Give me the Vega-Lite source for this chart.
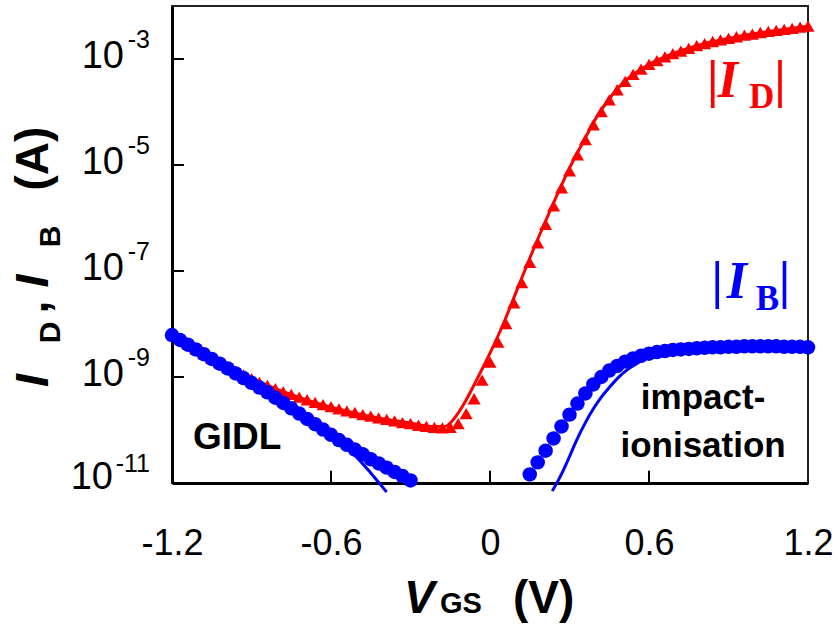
{
  "$schema": "https://vega.github.io/schema/vega-lite/v6.json",
  "width": 636,
  "height": 477,
  "autosize": {"type": "none"},
  "padding": {"left": 172, "top": 6, "right": 30, "bottom": 145},
  "background": "white",
  "config": {"view": {"stroke": "#222", "strokeWidth": 2}, "font": "Liberation Sans"},
  "encoding": {
    "x": {
      "field": "V", "type": "quantitative",
      "scale": {"domain": [-1.2, 1.2], "nice": false, "zero": false},
      "axis": {
        "values": [-1.2, -0.6, 0, 0.6, 1.2],
        "labelExpr": "datum.value < -1 ? '-1.2' : datum.value < -0.3 ? '-0.6' : datum.value < 0.3 ? '0' : datum.value < 1 ? '0.6' : '1.2'",
        "title": null, "grid": false, "ticks": false,
        "domainColor": "#000", "domainWidth": 3,
        "labelFont": "Liberation Sans", "labelFontSize": 36, "labelColor": "#000",
        "labelBaseline": "alphabetic", "labelPadding": 71,
        "labelFlush": false, "labelOverlap": false
      }
    },
    "y": {
      "field": "I", "type": "quantitative",
      "scale": {"type": "log", "domain": [1e-11, 1e-2], "nice": false},
      "axis": {
        "values": [1e-11, 1e-9, 1e-7, 1e-5, 1e-3],
        "title": null, "grid": false, "ticks": false, "labels": false,
        "domainColor": "#000", "domainWidth": 3
      }
    }
  },
  "layer": [
    {
      "data": {"values": [
        {"V": -1.2, "I": 1e-9, "t": "10"}, {"V": -1.2, "I": 1e-7, "t": "10"},
        {"V": -1.2, "I": 1e-5, "t": "10"}, {"V": -1.2, "I": 1e-3, "t": "10"}
      ]},
      "mark": {"type": "text", "font": "Liberation Sans", "fontSize": 38, "color": "#000", "align": "right", "baseline": "alphabetic", "dx": -48, "dy": 9},
      "encoding": {"text": {"field": "t"}}
    },
    {
      "data": {"values": [{"V": -1.2, "I": 1e-11, "t": "10"}]},
      "mark": {"type": "text", "font": "Liberation Sans", "fontSize": 38, "color": "#000", "align": "right", "baseline": "alphabetic", "dx": -59, "dy": 6},
      "encoding": {"text": {"field": "t"}}
    },
    {
      "data": {"values": [
        {"V": -1.2, "I": 1e-11, "t": "-11"}, {"V": -1.2, "I": 1e-9, "t": "-9"},
        {"V": -1.2, "I": 1e-7, "t": "-7"}, {"V": -1.2, "I": 1e-5, "t": "-5"},
        {"V": -1.2, "I": 1e-3, "t": "-3"}
      ]},
      "mark": {"type": "text", "font": "Liberation Sans", "fontSize": 25, "color": "#000", "align": "right", "baseline": "alphabetic", "dx": -22, "dy": -11},
      "encoding": {"text": {"field": "t"}}
    },
    {
      "data": {"values": [
        {"V": -1.2, "I": 6.76e-9}, {"V": -1.17, "I": 5.37e-9}, {"V": -1.14, "I": 4.27e-9}, {"V": -1.11, "I": 3.39e-9},
        {"V": -1.08, "I": 2.75e-9}, {"V": -1.05, "I": 2.24e-9}, {"V": -1.02, "I": 1.86e-9}, {"V": -0.99, "I": 1.55e-9},
        {"V": -0.96, "I": 1.29e-9}, {"V": -0.93, "I": 1.10e-9}, {"V": -0.9, "I": 9.33e-10}, {"V": -0.87, "I": 7.94e-10},
        {"V": -0.84, "I": 6.92e-10}, {"V": -0.81, "I": 6.03e-10}, {"V": -0.78, "I": 5.25e-10}, {"V": -0.75, "I": 4.68e-10},
        {"V": -0.72, "I": 4.17e-10}, {"V": -0.69, "I": 3.72e-10}, {"V": -0.66, "I": 3.31e-10}, {"V": -0.63, "I": 3.02e-10},
        {"V": -0.6, "I": 2.75e-10}, {"V": -0.57, "I": 2.51e-10}, {"V": -0.54, "I": 2.29e-10}, {"V": -0.51, "I": 2.14e-10},
        {"V": -0.48, "I": 1.95e-10}, {"V": -0.45, "I": 1.82e-10}, {"V": -0.42, "I": 1.70e-10}, {"V": -0.39, "I": 1.58e-10},
        {"V": -0.36, "I": 1.48e-10}, {"V": -0.33, "I": 1.38e-10}, {"V": -0.3, "I": 1.32e-10}, {"V": -0.27, "I": 1.23e-10},
        {"V": -0.24, "I": 1.17e-10}, {"V": -0.21, "I": 1.12e-10}, {"V": -0.18, "I": 1.10e-10}, {"V": -0.15, "I": 1.12e-10},
        {"V": -0.12, "I": 1.32e-10}, {"V": -0.09, "I": 2.04e-10}, {"V": -0.06, "I": 3.89e-10}, {"V": -0.03, "I": 8.71e-10},
        {"V": 0, "I": 1.91e-9}, {"V": 0.03, "I": 4.57e-9}, {"V": 0.06, "I": 1.02e-8}, {"V": 0.09, "I": 2.51e-8},
        {"V": 0.12, "I": 6.03e-8}, {"V": 0.15, "I": 1.45e-7}, {"V": 0.18, "I": 3.39e-7}, {"V": 0.21, "I": 7.59e-7},
        {"V": 0.24, "I": 1.70e-6}, {"V": 0.27, "I": 3.72e-6}, {"V": 0.3, "I": 7.76e-6}, {"V": 0.33, "I": 1.55e-5},
        {"V": 0.36, "I": 3.02e-5}, {"V": 0.39, "I": 5.75e-5}, {"V": 0.42, "I": 1.02e-4}, {"V": 0.45, "I": 1.70e-4},
        {"V": 0.48, "I": 2.63e-4}, {"V": 0.51, "I": 3.80e-4}, {"V": 0.54, "I": 5.13e-4}, {"V": 0.57, "I": 6.46e-4},
        {"V": 0.6, "I": 7.94e-4}, {"V": 0.63, "I": 9.33e-4}, {"V": 0.66, "I": 1.10e-3}, {"V": 0.69, "I": 1.26e-3},
        {"V": 0.72, "I": 1.41e-3}, {"V": 0.75, "I": 1.58e-3}, {"V": 0.78, "I": 1.78e-3}, {"V": 0.81, "I": 1.95e-3},
        {"V": 0.84, "I": 2.14e-3}, {"V": 0.87, "I": 2.29e-3}, {"V": 0.9, "I": 2.45e-3}, {"V": 0.93, "I": 2.63e-3},
        {"V": 0.96, "I": 2.82e-3}, {"V": 0.99, "I": 2.95e-3}, {"V": 1.02, "I": 3.16e-3}, {"V": 1.05, "I": 3.31e-3},
        {"V": 1.08, "I": 3.47e-3}, {"V": 1.11, "I": 3.63e-3}, {"V": 1.14, "I": 3.80e-3}, {"V": 1.17, "I": 3.98e-3},
        {"V": 1.2, "I": 4.17e-3}
      ]},
      "mark": {"type": "point", "shape": "triangle-up", "filled": true, "color": "#ff0000", "size": 170, "opacity": 1}
    },
    {
      "data": {"values": [
        {"V": -1.2, "I": 7.08e-9}, {"V": -1.1, "I": 3.31e-9}, {"V": -1.0, "I": 1.66e-9}, {"V": -0.9, "I": 9.33e-10},
        {"V": -0.8, "I": 5.75e-10}, {"V": -0.7, "I": 3.80e-10}, {"V": -0.6, "I": 2.69e-10}, {"V": -0.5, "I": 2.04e-10},
        {"V": -0.4, "I": 1.62e-10}, {"V": -0.3, "I": 1.35e-10}, {"V": -0.22, "I": 1.17e-10}, {"V": -0.17, "I": 1.17e-10},
        {"V": -0.13, "I": 1.78e-10}, {"V": -0.1, "I": 3.02e-10}, {"V": -0.05, "I": 8.91e-10}, {"V": 0, "I": 2.82e-9},
        {"V": 0.05, "I": 1.00e-8}, {"V": 0.1, "I": 4.17e-8}, {"V": 0.15, "I": 1.74e-7}, {"V": 0.2, "I": 6.76e-7},
        {"V": 0.25, "I": 2.51e-6}, {"V": 0.3, "I": 8.71e-6}, {"V": 0.35, "I": 2.63e-5}, {"V": 0.4, "I": 7.59e-5},
        {"V": 0.45, "I": 1.78e-4}, {"V": 0.5, "I": 3.47e-4}, {"V": 0.55, "I": 5.50e-4}, {"V": 0.6, "I": 7.94e-4},
        {"V": 0.7, "I": 1.32e-3}, {"V": 0.8, "I": 1.91e-3}, {"V": 0.9, "I": 2.45e-3}, {"V": 1.0, "I": 3.02e-3},
        {"V": 1.1, "I": 3.55e-3}, {"V": 1.2, "I": 4.17e-3}
      ]},
      "mark": {"type": "line", "color": "#ff0000", "strokeWidth": 3, "interpolate": "monotone"}
    },
    {
      "data": {"values": [
        {"V": -1.2, "I": 6.17e-9}, {"V": -1.17, "I": 5.01e-9}, {"V": -1.14, "I": 4.07e-9}, {"V": -1.11, "I": 3.31e-9},
        {"V": -1.08, "I": 2.69e-9}, {"V": -1.05, "I": 2.19e-9}, {"V": -1.02, "I": 1.78e-9}, {"V": -0.99, "I": 1.45e-9},
        {"V": -0.96, "I": 1.17e-9}, {"V": -0.93, "I": 9.55e-10}, {"V": -0.9, "I": 7.76e-10}, {"V": -0.87, "I": 6.31e-10},
        {"V": -0.84, "I": 5.13e-10}, {"V": -0.81, "I": 4.07e-10}, {"V": -0.78, "I": 3.24e-10}, {"V": -0.75, "I": 2.57e-10},
        {"V": -0.72, "I": 2.04e-10}, {"V": -0.69, "I": 1.62e-10}, {"V": -0.66, "I": 1.29e-10}, {"V": -0.63, "I": 1.02e-10},
        {"V": -0.6, "I": 8.13e-11}, {"V": -0.57, "I": 6.46e-11}, {"V": -0.54, "I": 5.25e-11}, {"V": -0.51, "I": 4.27e-11},
        {"V": -0.48, "I": 3.47e-11}, {"V": -0.45, "I": 2.82e-11}, {"V": -0.42, "I": 2.34e-11}, {"V": -0.39, "I": 1.95e-11},
        {"V": -0.36, "I": 1.62e-11}, {"V": -0.33, "I": 1.35e-11}, {"V": -0.3, "I": 1.12e-11},
        {"V": 0.15, "I": 1.45e-11}, {"V": 0.18, "I": 2.45e-11}, {"V": 0.21, "I": 4.07e-11}, {"V": 0.24, "I": 6.92e-11},
        {"V": 0.27, "I": 1.17e-10}, {"V": 0.3, "I": 1.95e-10}, {"V": 0.33, "I": 3.16e-10}, {"V": 0.36, "I": 4.90e-10},
        {"V": 0.39, "I": 7.24e-10}, {"V": 0.42, "I": 1.00e-9}, {"V": 0.45, "I": 1.32e-9}, {"V": 0.48, "I": 1.62e-9},
        {"V": 0.51, "I": 1.95e-9}, {"V": 0.54, "I": 2.24e-9}, {"V": 0.57, "I": 2.51e-9}, {"V": 0.6, "I": 2.75e-9},
        {"V": 0.63, "I": 2.95e-9}, {"V": 0.66, "I": 3.09e-9}, {"V": 0.69, "I": 3.24e-9}, {"V": 0.72, "I": 3.31e-9},
        {"V": 0.75, "I": 3.39e-9}, {"V": 0.78, "I": 3.47e-9}, {"V": 0.81, "I": 3.55e-9}, {"V": 0.84, "I": 3.63e-9},
        {"V": 0.87, "I": 3.63e-9}, {"V": 0.9, "I": 3.72e-9}, {"V": 0.93, "I": 3.72e-9}, {"V": 0.96, "I": 3.80e-9},
        {"V": 0.99, "I": 3.80e-9}, {"V": 1.02, "I": 3.80e-9}, {"V": 1.05, "I": 3.80e-9}, {"V": 1.08, "I": 3.80e-9},
        {"V": 1.11, "I": 3.72e-9}, {"V": 1.14, "I": 3.72e-9}, {"V": 1.17, "I": 3.72e-9}, {"V": 1.2, "I": 3.63e-9}
      ]},
      "mark": {"type": "circle", "color": "#0000ff", "size": 210, "opacity": 1}
    },
    {
      "data": {"values": [
        {"g": "gidl", "V": -1.2, "I": 6.17e-9}, {"g": "gidl", "V": -1.0, "I": 1.55e-9}, {"g": "gidl", "V": -0.8, "I": 3.80e-10},
        {"g": "gidl", "V": -0.6, "I": 8.13e-11}, {"g": "gidl", "V": -0.55, "I": 5.01e-11}, {"g": "gidl", "V": -0.5, "I": 2.95e-11},
        {"g": "gidl", "V": -0.45, "I": 1.55e-11}, {"g": "gidl", "V": -0.4, "I": 7.76e-12}, {"g": "gidl", "V": -0.39, "I": 6.76e-12},
        {"g": "ii", "V": 0.235, "I": 7.08e-12}, {"g": "ii", "V": 0.264, "I": 1.29e-11}, {"g": "ii", "V": 0.3, "I": 3.16e-11},
        {"g": "ii", "V": 0.327, "I": 6.46e-11}, {"g": "ii", "V": 0.36, "I": 1.38e-10}, {"g": "ii", "V": 0.39, "I": 2.51e-10},
        {"g": "ii", "V": 0.42, "I": 4.17e-10}, {"g": "ii", "V": 0.453, "I": 6.61e-10}, {"g": "ii", "V": 0.48, "I": 9.33e-10},
        {"g": "ii", "V": 0.516, "I": 1.35e-9}, {"g": "ii", "V": 0.55, "I": 1.74e-9}, {"g": "ii", "V": 0.6, "I": 2.40e-9},
        {"g": "ii", "V": 0.66, "I": 2.95e-9}, {"g": "ii", "V": 0.72, "I": 3.31e-9}, {"g": "ii", "V": 0.8, "I": 3.55e-9},
        {"g": "ii", "V": 0.9, "I": 3.72e-9}, {"g": "ii", "V": 1.0, "I": 3.80e-9}, {"g": "ii", "V": 1.1, "I": 3.80e-9},
        {"g": "ii", "V": 1.2, "I": 3.63e-9}
      ]},
      "mark": {"type": "line", "color": "#0000ff", "strokeWidth": 3, "interpolate": "monotone"},
      "encoding": {"detail": {"field": "g", "type": "nominal"}}
    },
    {
      "data": {"values": [
        {"V": 0.84, "I": 1.9e-4, "t": "|"}, {"V": 1.094, "I": 1.9e-4, "t": "|"}
      ]},
      "mark": {"type": "text", "font": "Liberation Serif", "fontWeight": "bold", "fontSize": 52, "color": "#ff0000", "align": "center", "baseline": "alphabetic"},
      "encoding": {"text": {"field": "t"}}
    },
    {
      "data": {"values": [{"V": 0.898, "I": 1.9e-4, "t": "I"}]},
      "mark": {"type": "text", "font": "Liberation Serif", "fontWeight": "bold", "fontStyle": "italic", "fontSize": 52, "color": "#ff0000", "align": "center", "baseline": "alphabetic"},
      "encoding": {"text": {"field": "t"}}
    },
    {
      "data": {"values": [{"V": 1.025, "I": 1.17e-4, "t": "D"}]},
      "mark": {"type": "text", "font": "Liberation Serif", "fontWeight": "bold", "fontSize": 35, "color": "#ff0000", "align": "center", "baseline": "alphabetic"},
      "encoding": {"text": {"field": "t"}}
    },
    {
      "data": {"values": [
        {"V": 0.857, "I": 3.05e-8, "t": "|"}, {"V": 1.111, "I": 3.05e-8, "t": "|"}
      ]},
      "mark": {"type": "text", "font": "Liberation Serif", "fontWeight": "bold", "fontSize": 52, "color": "#0000ff", "align": "center", "baseline": "alphabetic"},
      "encoding": {"text": {"field": "t"}}
    },
    {
      "data": {"values": [{"V": 0.932, "I": 3.05e-8, "t": "I"}]},
      "mark": {"type": "text", "font": "Liberation Serif", "fontWeight": "bold", "fontStyle": "italic", "fontSize": 52, "color": "#0000ff", "align": "center", "baseline": "alphabetic"},
      "encoding": {"text": {"field": "t"}}
    },
    {
      "data": {"values": [{"V": 1.047, "I": 1.82e-8, "t": "B"}]},
      "mark": {"type": "text", "font": "Liberation Serif", "fontWeight": "bold", "fontSize": 35, "color": "#0000ff", "align": "center", "baseline": "alphabetic"},
      "encoding": {"text": {"field": "t"}}
    },
    {
      "data": {"values": [{"V": -1.121, "I": 4.33e-11, "t": "GIDL"}]},
      "mark": {"type": "text", "font": "Liberation Sans", "fontWeight": "bold", "fontSize": 37, "color": "#000", "align": "left", "baseline": "alphabetic"},
      "encoding": {"text": {"field": "t"}}
    },
    {
      "data": {"values": [
        {"V": 0.804, "I": 2.54e-10, "t": "impact-"}, {"V": 0.804, "I": 3.10e-11, "t": "ionisation"}
      ]},
      "mark": {"type": "text", "font": "Liberation Sans", "fontWeight": "bold", "fontSize": 35, "color": "#000", "align": "center", "baseline": "alphabetic"},
      "encoding": {"text": {"field": "t"}}
    },
    {
      "data": {"values": [
        {"V": -1.2, "I": 6.46e-10, "t": "I"}, {"V": -1.2, "I": 4.9e-8, "t": "I"}
      ]},
      "mark": {"type": "text", "font": "Liberation Sans", "fontWeight": "bold", "fontStyle": "italic", "fontSize": 47, "color": "#000", "align": "left", "baseline": "alphabetic", "angle": 270, "dy": -124},
      "encoding": {"text": {"field": "t"}}
    },
    {
      "data": {"values": [
        {"V": -1.2, "I": 4.33e-9, "t": "D"}, {"V": -1.2, "I": 2.82e-7, "t": "B"}
      ]},
      "mark": {"type": "text", "font": "Liberation Sans", "fontWeight": "bold", "fontSize": 30, "color": "#000", "align": "left", "baseline": "alphabetic", "angle": 270, "dy": -112},
      "encoding": {"text": {"field": "t"}}
    },
    {
      "data": {"values": [
        {"V": -1.2, "I": 1.58e-8, "t": ","}, {"V": -1.2, "I": 3.31e-6, "t": "(A)"}
      ]},
      "mark": {"type": "text", "font": "Liberation Sans", "fontWeight": "bold", "fontSize": 46, "color": "#000", "align": "left", "baseline": "alphabetic", "angle": 270, "dy": -124},
      "encoding": {"text": {"field": "t"}}
    },
    {
      "data": {"values": [{"V": -0.325, "I": 1e-11, "t": "V"}]},
      "mark": {"type": "text", "font": "Liberation Sans", "fontWeight": "bold", "fontStyle": "italic", "fontSize": 46, "color": "#000", "align": "left", "baseline": "alphabetic", "dy": 130},
      "encoding": {"text": {"field": "t"}}
    },
    {
      "data": {"values": [{"V": -0.189, "I": 1e-11, "t": "GS"}]},
      "mark": {"type": "text", "font": "Liberation Sans", "fontWeight": "bold", "fontSize": 29, "color": "#000", "align": "left", "baseline": "alphabetic", "dy": 130},
      "encoding": {"text": {"field": "t"}}
    },
    {
      "data": {"values": [{"V": 0.087, "I": 1e-11, "t": "(V)"}]},
      "mark": {"type": "text", "font": "Liberation Sans", "fontWeight": "bold", "fontSize": 46, "color": "#000", "align": "left", "baseline": "alphabetic", "dy": 130},
      "encoding": {"text": {"field": "t"}}
    },
    {
      "data": {"values": [
        {"tk": "x1", "V": -0.6, "I": 1e-11}, {"tk": "x1", "V": -0.6, "I": 1.7e-11},
        {"tk": "x2", "V": 0, "I": 1e-11}, {"tk": "x2", "V": 0, "I": 1.7e-11},
        {"tk": "x3", "V": 0.6, "I": 1e-11}, {"tk": "x3", "V": 0.6, "I": 1.7e-11},
        {"tk": "y1", "V": -1.2, "I": 1e-9}, {"tk": "y1", "V": -1.155, "I": 1e-9},
        {"tk": "y2", "V": -1.2, "I": 1e-7}, {"tk": "y2", "V": -1.155, "I": 1e-7},
        {"tk": "y3", "V": -1.2, "I": 1e-5}, {"tk": "y3", "V": -1.155, "I": 1e-5},
        {"tk": "y4", "V": -1.2, "I": 1e-3}, {"tk": "y4", "V": -1.155, "I": 1e-3}
      ]},
      "mark": {"type": "line", "color": "#000000", "strokeWidth": 2},
      "encoding": {"detail": {"field": "tk", "type": "nominal"}, "order": {"field": "I", "type": "quantitative"}}
    }
  ]
}
